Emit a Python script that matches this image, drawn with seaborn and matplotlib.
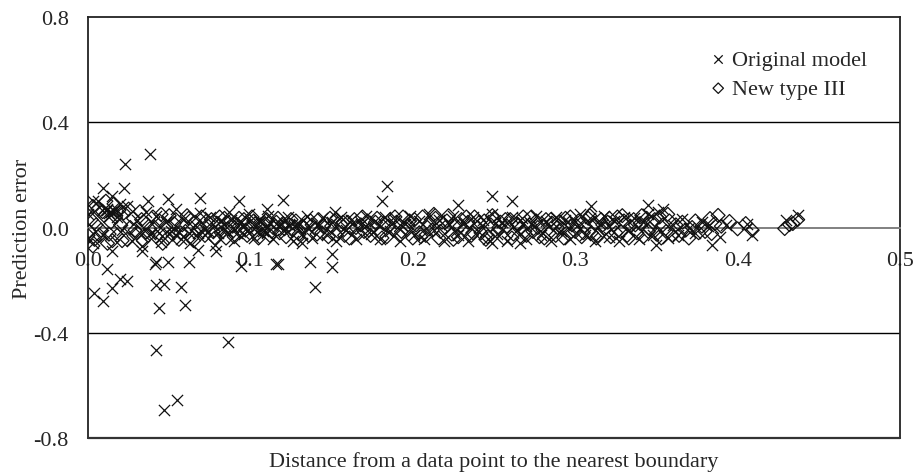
import matplotlib
matplotlib.use("Agg")
import matplotlib.pyplot as plt
import seaborn as sns

# Original model: (distance, prediction error)
orig_band = [
    (0.000, 0.050), (0.003, -0.060), (0.006, 0.100), (0.009, -0.030), (0.012, 0.070), (0.015, -0.090),
    (0.018, 0.040), (0.021, -0.010), (0.024, 0.080), (0.027, -0.050), (0.030, 0.030), (0.033, -0.070),
    (0.036, 0.060), (0.039, -0.020), (0.042, 0.045), (0.045, -0.055), (0.048, 0.020), (0.051, -0.015),
    (0.054, 0.070), (0.057, -0.045), (0.060, 0.035), (0.063, -0.060), (0.066, 0.010), (0.069, 0.055),
    (0.072, -0.030), (0.075, 0.040), (0.078, -0.065), (0.081, 0.025), (0.084, -0.010), (0.087, 0.060),
    (0.090, -0.050), (0.093, 0.020), (0.096, -0.025), (0.099, 0.050), (0.102, -0.040), (0.105, 0.030),
    (0.108, -0.015), (0.111, 0.045), (0.114, -0.045), (0.117, 0.020), (0.120, -0.010), (0.123, 0.040),
    (0.126, -0.050), (0.129, 0.015), (0.132, -0.025), (0.135, 0.045), (0.138, -0.040), (0.141, 0.010),
    (0.144, 0.035), (0.147, -0.030), (0.150, 0.020), (0.153, -0.050), (0.156, 0.040), (0.159, -0.010),
    (0.162, 0.030), (0.165, -0.045), (0.168, 0.015), (0.171, 0.045), (0.174, -0.025), (0.177, 0.025),
    (0.180, -0.045), (0.183, 0.040), (0.186, -0.015), (0.189, 0.030), (0.192, -0.050), (0.195, 0.015),
    (0.198, 0.045), (0.201, -0.030), (0.204, 0.025), (0.207, -0.045), (0.210, 0.050), (0.213, -0.010),
    (0.216, 0.030), (0.219, -0.050), (0.222, 0.015), (0.225, 0.045), (0.228, -0.030), (0.231, 0.020),
    (0.234, -0.050), (0.237, 0.040), (0.240, -0.015), (0.243, 0.030), (0.246, -0.045), (0.249, 0.050),
    (0.252, -0.025), (0.255, 0.020), (0.258, -0.050), (0.261, 0.040), (0.264, -0.010), (0.267, 0.035),
    (0.270, -0.045), (0.273, 0.015), (0.276, 0.045), (0.279, -0.030), (0.282, 0.025), (0.285, -0.050),
    (0.288, 0.040), (0.291, -0.015), (0.294, 0.030), (0.297, -0.045), (0.300, 0.020), (0.303, 0.050),
    (0.306, -0.030), (0.309, 0.035), (0.312, -0.050), (0.315, 0.015), (0.318, 0.045), (0.321, -0.035),
    (0.324, 0.025), (0.327, -0.050), (0.330, 0.040), (0.333, -0.010), (0.336, 0.035), (0.339, -0.045),
    (0.342, 0.020), (0.345, 0.050), (0.348, -0.030), (0.351, 0.060), (0.354, 0.070), (0.357, -0.040),
    (0.360, 0.010), (0.363, -0.030), (0.366, 0.034), (0.370, 0.000), (0.374, -0.020), (0.378, 0.020),
    (0.382, 0.005), (0.384, -0.068), (0.389, -0.035), (0.393, 0.010), (0.406, 0.015), (0.409, -0.030),
    (0.430, 0.027), (0.437, 0.046), (0.350, -0.068),
    # dense strands near the start
    (0.032, -0.020), (0.038, -0.025), (0.044, -0.020), (0.050, -0.025), (0.056, -0.018), (0.062, -0.022),
    (0.068, -0.020), (0.074, -0.015), (0.080, -0.020), (0.086, -0.018), (0.092, -0.020), (0.098, -0.015),
    (0.104, -0.018), (0.110, -0.020), (0.082, 0.025), (0.088, 0.030), (0.094, 0.020), (0.100, 0.025),
    (0.106, 0.020), (0.112, 0.015), (0.118, 0.015), (0.124, 0.010), (0.130, 0.012), (0.010, 0.060),
    (0.012, 0.065), (0.014, 0.058), (0.016, 0.062), (0.013, 0.055), (0.018, 0.068),
]
orig_outliers = [
    (0.038, 0.278), (0.023, 0.240), (0.009, 0.152), (0.022, 0.152), (0.049, 0.110), (0.069, 0.114),
    (0.093, 0.100), (0.110, 0.072), (0.037, 0.100), (0.015, 0.120), (0.003, 0.099), (0.020, 0.090),
    (0.033, -0.091), (0.042, -0.130), (0.049, -0.130), (0.062, -0.130), (0.012, -0.156), (0.020, -0.194),
    (0.024, -0.205), (0.042, -0.220), (0.047, -0.213), (0.057, -0.228), (0.004, -0.250), (0.015, -0.230),
    (0.079, -0.091), (0.094, -0.145), (0.116, -0.137), (0.068, -0.087), (0.009, -0.280), (0.044, -0.305),
    (0.060, -0.296), (0.042, -0.464), (0.086, -0.434), (0.047, -0.693), (0.055, -0.655), (0.041, -0.137),
    (0.137, -0.130), (0.150, -0.100), (0.150, -0.150), (0.132, -0.060), (0.140, -0.225), (0.120, 0.103),
    (0.152, 0.060), (0.181, 0.099), (0.184, 0.156), (0.228, 0.084), (0.249, 0.118), (0.261, 0.100),
    (0.310, 0.080), (0.345, 0.084), (0.249, -0.060), (0.266, -0.060), (0.117, -0.137),
]

# New type III
new_band = [
    (0.002, 0.030), (0.004, -0.045), (0.006, 0.070), (0.008, -0.010), (0.010, 0.045), (0.012, -0.060),
    (0.014, 0.020), (0.016, 0.090), (0.018, -0.030), (0.020, 0.010), (0.022, 0.055), (0.024, -0.045),
    (0.026, 0.000), (0.028, 0.035), (0.030, -0.020), (0.032, 0.060), (0.034, -0.050), (0.036, 0.015),
    (0.038, -0.005), (0.040, 0.040), (0.042, -0.035), (0.044, 0.025), (0.046, -0.060), (0.048, 0.005),
    (0.050, 0.045), (0.052, -0.025), (0.054, 0.030), (0.056, -0.045), (0.058, 0.010), (0.060, -0.015),
    (0.062, 0.035), (0.064, -0.040), (0.066, 0.020), (0.068, -0.010), (0.070, 0.040), (0.072, -0.030),
    (0.074, 0.005), (0.076, 0.030), (0.078, -0.040), (0.080, 0.015), (0.082, -0.020), (0.084, 0.035),
    (0.086, -0.005), (0.088, 0.025), (0.090, -0.035), (0.092, 0.010), (0.094, -0.015), (0.096, 0.030),
    (0.098, -0.030), (0.100, 0.005), (0.102, 0.025), (0.104, -0.025), (0.106, 0.010), (0.108, -0.010),
    (0.110, 0.030), (0.112, -0.030), (0.114, 0.000), (0.116, 0.020), (0.118, -0.020), (0.120, 0.015),
    (0.122, -0.035), (0.124, 0.010), (0.126, -0.010), (0.128, 0.025), (0.130, -0.025), (0.132, 0.005),
    (0.134, 0.020), (0.136, -0.030), (0.138, 0.010), (0.140, -0.005), (0.142, 0.030), (0.144, -0.020),
    (0.146, 0.015), (0.148, -0.035), (0.150, 0.005), (0.152, 0.025), (0.154, -0.015), (0.156, 0.010),
    (0.158, -0.030), (0.160, 0.020), (0.162, -0.005), (0.164, 0.030), (0.166, -0.025), (0.168, 0.010),
    (0.170, -0.015), (0.172, 0.025), (0.174, -0.030), (0.176, 0.005), (0.178, 0.035), (0.180, -0.020),
    (0.182, 0.015), (0.184, -0.035), (0.186, 0.030), (0.188, -0.010), (0.190, 0.020), (0.192, -0.030),
    (0.194, 0.040), (0.196, -0.005), (0.198, 0.025), (0.200, -0.040), (0.202, 0.010), (0.204, -0.020),
    (0.206, 0.040), (0.208, -0.030), (0.210, 0.015), (0.212, -0.010), (0.214, 0.035), (0.216, -0.040),
    (0.218, 0.020), (0.220, 0.000), (0.222, 0.045), (0.224, -0.025), (0.226, 0.010), (0.228, -0.035),
    (0.230, 0.030), (0.232, -0.010), (0.234, 0.020), (0.236, -0.030), (0.238, 0.040), (0.240, 0.000),
    (0.242, -0.020), (0.244, 0.025), (0.246, -0.035), (0.248, 0.010), (0.250, 0.035), (0.252, -0.015),
    (0.254, 0.020), (0.256, -0.040), (0.258, 0.005), (0.260, 0.030), (0.262, -0.025), (0.264, 0.015),
    (0.266, -0.005), (0.268, 0.040), (0.270, -0.030), (0.272, 0.010), (0.274, -0.015), (0.276, 0.025),
    (0.278, -0.035), (0.280, 0.005), (0.282, 0.030), (0.284, -0.020), (0.286, 0.015), (0.288, -0.030),
    (0.290, 0.020), (0.292, -0.005), (0.294, 0.035), (0.296, -0.025), (0.298, 0.010), (0.300, -0.015),
    (0.302, 0.025), (0.304, -0.035), (0.306, 0.005), (0.308, 0.035), (0.310, -0.020), (0.312, 0.015),
    (0.314, -0.030), (0.316, 0.030), (0.318, -0.005), (0.320, 0.020), (0.322, -0.035), (0.324, 0.010),
    (0.326, 0.040), (0.328, -0.015), (0.330, 0.025), (0.332, -0.030), (0.334, 0.005), (0.336, 0.030),
    (0.338, -0.020), (0.340, 0.015), (0.342, -0.035), (0.344, 0.035), (0.346, -0.005), (0.348, 0.020),
    (0.350, -0.025), (0.352, 0.040), (0.354, 0.010), (0.356, -0.015), (0.358, 0.025), (0.360, -0.030),
    (0.001, -0.015), (0.005, 0.010), (0.009, 0.060), (0.013, -0.025), (0.017, 0.040), (0.021, -0.050),
    (0.025, 0.070), (0.029, -0.010), (0.033, 0.030), (0.037, -0.030), (0.041, 0.000), (0.045, 0.050),
    (0.049, -0.040), (0.053, 0.015), (0.057, -0.020), (0.061, 0.045), (0.065, -0.050), (0.069, 0.000),
    (0.073, 0.025), (0.077, -0.015), (0.081, 0.040), (0.085, -0.040), (0.089, 0.005), (0.093, 0.035),
    (0.097, -0.010), (0.101, 0.040), (0.105, -0.040), (0.109, 0.015), (0.113, -0.015), (0.117, 0.035),
    (0.121, -0.005), (0.125, 0.030), (0.129, -0.040), (0.133, 0.000), (0.137, 0.025), (0.141, -0.025),
    (0.145, 0.005), (0.149, 0.035), (0.153, -0.030), (0.157, 0.020), (0.161, -0.040), (0.165, 0.000),
    (0.169, 0.040), (0.173, -0.010), (0.177, 0.020), (0.181, -0.040), (0.185, 0.005), (0.189, 0.040),
    (0.193, -0.015), (0.197, 0.010), (0.201, 0.030), (0.205, -0.035), (0.209, 0.000), (0.213, 0.050),
    (0.217, -0.015), (0.221, 0.025), (0.225, -0.045), (0.229, 0.005), (0.233, 0.040), (0.237, -0.020),
    (0.241, 0.020), (0.245, -0.045), (0.249, 0.045), (0.253, 0.000), (0.257, 0.030), (0.261, -0.040),
    (0.265, 0.010), (0.269, -0.015), (0.273, 0.040), (0.277, 0.000), (0.281, -0.040), (0.285, 0.030),
    (0.289, 0.000), (0.293, -0.040), (0.297, 0.040), (0.301, 0.005), (0.305, -0.020), (0.309, 0.045),
    (0.313, -0.040), (0.317, 0.010), (0.321, 0.035), (0.325, -0.020), (0.329, 0.045), (0.333, -0.040),
    (0.337, 0.010), (0.341, 0.045), (0.345, -0.015), (0.349, 0.030), (0.353, -0.040), (0.357, 0.050),
    (0.362, 0.010), (0.364, -0.030), (0.366, 0.020), (0.368, -0.010), (0.370, -0.040), (0.372, 0.000),
    (0.374, 0.025), (0.376, -0.020), (0.378, 0.005), (0.380, -0.015), (0.383, 0.034), (0.384, -0.023),
    (0.386, 0.015), (0.388, 0.046), (0.390, 0.005), (0.395, 0.023), (0.400, -0.005), (0.405, 0.015),
    (0.409, -0.010), (0.429, -0.004), (0.432, 0.011), (0.437, 0.030), (0.434, 0.015),
    (0.000, 0.060), (0.003, 0.080), (0.007, -0.030), (0.011, 0.100), (0.015, -0.050), (0.019, 0.065),
    (0.003, -0.070), (0.000, -0.030),
]

x_ticks = [0.0, 0.1, 0.2, 0.3, 0.4, 0.5]
y_ticks = [-0.8, -0.4, 0.0, 0.4, 0.8]
grid_levels = [-0.4, 0.4]

orig_x = [p[0] for p in orig_band + orig_outliers]
orig_y = [p[1] for p in orig_band + orig_outliers]
new_x = [p[0] for p in new_band]
new_y = [p[1] for p in new_band]

sns.set_style("white")
plt.rcParams['font.family'] = ['Liberation Serif', 'DejaVu Serif']
plt.rcParams['axes.unicode_minus'] = False
plt.rcParams['font.size'] = 16

fig = plt.figure(figsize=(9.13, 4.77), dpi=100)
ax = fig.add_axes([88 / 913, 1 - 439 / 477, 812 / 913, 421 / 477])

sns.scatterplot(x=orig_x, y=orig_y, marker='x', color='#111111', s=65, linewidth=0.9,
                label='Original model', ax=ax, zorder=3)
sns.scatterplot(x=new_x, y=new_y, marker='D', s=50, color='#111111', facecolor='none',
                edgecolor='#111111', linewidth=0.9, label='New type III', ax=ax, zorder=4)

for g in grid_levels:
    ax.axhline(g, color='black', lw=1.0, zorder=1)
ax.axhline(-0.8, color='#333333', lw=1.6, clip_on=False, zorder=5)

ax.set_xlim(0, 0.5)
ax.set_ylim(-0.8, 0.8)
ax.set_xticks(x_ticks)
ax.set_xticklabels([f"{t:.1f}" for t in x_ticks])
ax.set_yticks(y_ticks)
ax.set_yticklabels([f"{t:.1f}" for t in y_ticks])

ax.spines['bottom'].set_position(('data', 0))
ax.spines['bottom'].set_color('#808080')
ax.spines['bottom'].set_linewidth(1.4)
for side in ['left', 'right', 'top']:
    ax.spines[side].set_color('#222222')
    ax.spines[side].set_linewidth(1.3)

ax.tick_params(axis='x', length=0, pad=17)
ax.tick_params(axis='y', length=0, pad=14)

ax.set_ylabel('Prediction error', fontsize=16, labelpad=1)
ax.set_xlabel('Distance from a data point to the nearest boundary', fontsize=16)
ax.xaxis.set_label_coords(0.5, -0.03)

ax.legend(loc='upper left', bbox_to_anchor=(0.757, 0.945), frameon=False, fontsize=16,
          markerscale=0.75, handlelength=0.6, handletextpad=0.3, labelspacing=0.4,
          borderaxespad=0)

fig.savefig('out.png', dpi=100)
